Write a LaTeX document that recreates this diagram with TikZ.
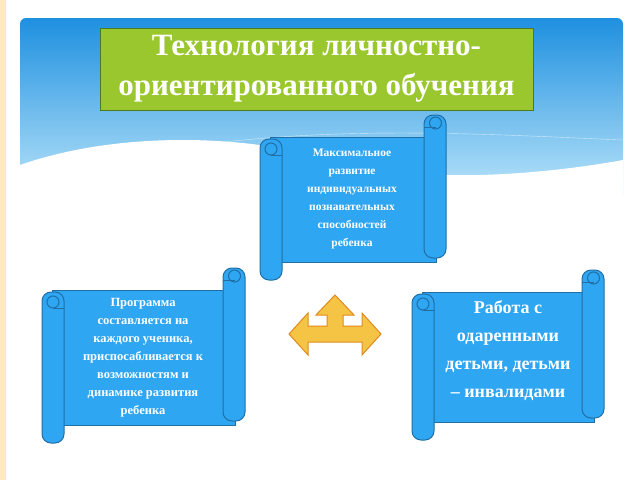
\documentclass[tikz,border=0pt]{standalone}
\usepackage{fontspec}
\setmainfont{Liberation Serif}
\begin{document}
\begin{tikzpicture}[x=1pt,y=-1pt,
  scr/.style={fill=scrollblue,draw=scrolledge,line width=1pt},
  stxt/.style={text=white,font=\bfseries,align=center,inner sep=0pt}]
\definecolor{scrollblue}{HTML}{2FA6F2}
\definecolor{scrolledge}{HTML}{1F6FA6}
\definecolor{skyA}{HTML}{1E90E0}
\definecolor{skyB}{HTML}{BDE6FA}
\definecolor{titlegreen}{HTML}{9AC62E}
\definecolor{titleedge}{HTML}{4E7A1E}
\definecolor{arrowfill}{HTML}{F6C445}
\definecolor{arrowedge}{HTML}{E08A1E}
\useasboundingbox (0,0) rectangle (640,480);
\fill[white] (0,0) rectangle (640,480);
\fill[yellow!15!orange!20] (0,0) rectangle (6,480);
% sky
\shade[top color=skyA,bottom color=skyB,rounded corners=6pt] (20,18) rectangle (623,200);
\fill[white] (20,165) .. controls (120,130) and (250,135) .. (330,160) .. controls (420,185) and (540,175) .. (623,160) -- (623,205) -- (20,205) -- cycle;
\fill[white] (20,200) rectangle (623,480);
\draw[white,opacity=0.6] (200,145) .. controls (350,125) and (500,135) .. (623,140);
% title
\node[draw=titleedge,line width=1pt,fill=titlegreen,minimum width=433pt,minimum height=82pt,
  text=white,font=\bfseries\fontsize{31}{40}\selectfont,align=center] (title) at (316.5,69)
  {Технология личностно-\\ориентированного обучения};
\newcommand\myscroll[4]{%
  % body
  \draw[scr] (#1,#3) rectangle (#2,#4);
  % right roll
  \draw[scr,rounded corners=9pt] (#2-12,#3-22) rectangle (#2+10,#4-4);
  \draw[scr] (#2-0.5,#3-14) circle (6pt);
  \draw[scrolledge,line width=1pt] (#2-12,#3-10) -- (#2-0.5,#3-10);
  % left roll
  \draw[scr,rounded corners=9pt] (#1-10,#3+2) rectangle (#1+12,#4+18);
  \draw[scr] (#1+1,#3+12) circle (6pt);
  \draw[scrolledge,line width=1pt] (#1+1,#3+18) -- (#1+12,#3+18);
}
\myscroll{270}{436}{137}{262}
\myscroll{52}{235}{290}{425}
\myscroll{422}{594}{292}{422}
\node[stxt,font=\bfseries\fontsize{11.5}{18}\selectfont] (s1) at (352,199)
  {Максимальное\\развитие\\индивидуальных\\познавательных\\способностей\\ребенка};
\node[stxt,font=\bfseries\fontsize{12.5}{18}\selectfont] (s2) at (143,358)
  {Программа\\составляется на\\каждого ученика,\\приспосабливается  к\\возможностям и\\динамике развития\\ребенка};
\node[stxt,font=\bfseries\fontsize{18}{28}\selectfont] (s3) at (508,351)
  {Работа с\\одаренными\\детьми, детьми\\– инвалидами};
% three-way arrow
\draw[fill=arrowfill,draw=arrowedge,line width=1pt]
  (335,295) -- (354,315) -- (343,315) -- (343,326) -- (362,326) -- (362,313) -- (381,334)
  -- (362,355) -- (362,342) -- (308,342) -- (308,355) -- (289,334) -- (308,313) -- (308,326)
  -- (327,326) -- (327,315) -- (316,315) -- cycle;
\end{tikzpicture}
\end{document}
